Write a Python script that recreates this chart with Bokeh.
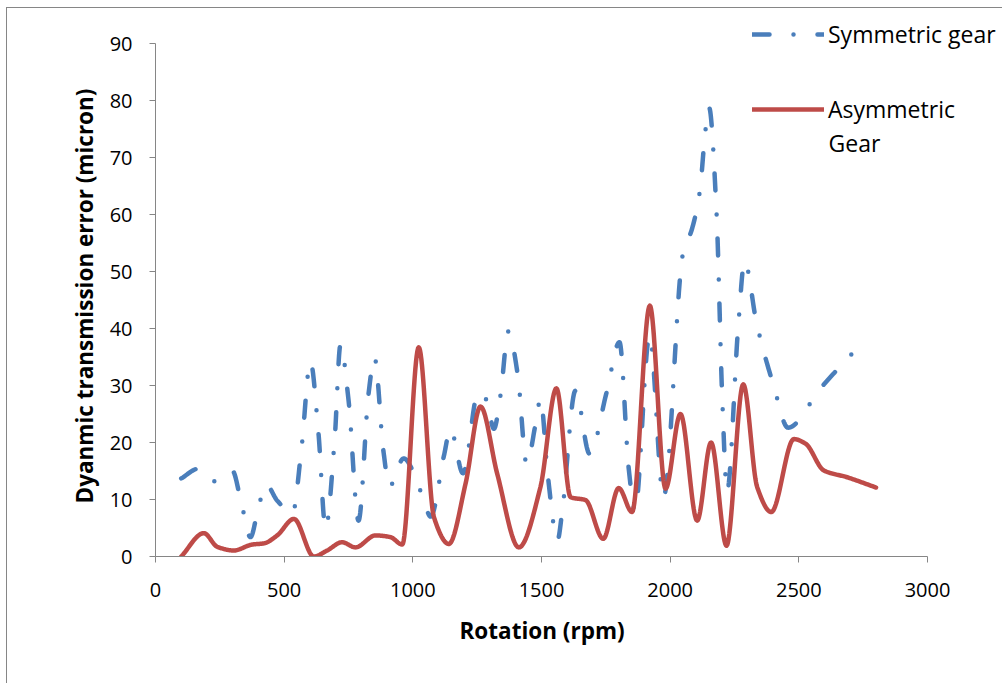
import numpy as np
from bokeh.plotting import figure
from bokeh.models import Range1d, FixedTicker, Legend, LegendItem, Label, Title
from bokeh.embed import file_html
from bokeh.resources import INLINE

# ---- data ----
sym_rpm = [100, 167, 225, 298, 334, 369, 400, 430, 473, 532, 567, 602, 633, 661,
           696, 719, 750, 789, 828, 851, 886, 909, 964, 1037, 1069, 1121, 1146,
           1195, 1254, 1286, 1315, 1341, 1371, 1408, 1442, 1478, 1496, 1525, 1562,
           1580, 1632, 1687, 1753, 1803, 1839, 1863, 1920, 1974, 2050, 2085, 2115,
           2137, 2151, 2180, 2203, 2221, 2265, 2289, 2336, 2402, 2458, 2584, 2750]
sym_err = [13.7, 15.4, 13.2, 15.1, 9.3, 3.4, 8.6, 12.6, 9.8, 7.5, 18.8, 34.2, 21.8, 4.9,
           20.4, 37.2, 27.5, 6.3, 28.6, 34.9, 18.4, 12.3, 17.2, 10.7, 7.0, 17.7, 22.4,
           14.6, 28.8, 27.5, 22.4, 28.4, 39.5, 31.8, 16.3, 23.5, 27.7, 14.0, 2.8,
           7.7, 29.1, 18.0, 28.8, 37.6, 15.4, 8.0, 38.8, 10.4, 53.2, 57.5, 64.0,
           74.7, 78.8, 60.5, 27.0, 11.4, 40.7, 51.8, 40.9, 30.0, 22.6, 29.5, 37.7]

asym_rpm = [100, 188, 240, 304, 376, 421, 473, 538, 615, 667, 725, 777, 855, 913, 959,
            1023, 1082, 1140, 1205, 1263, 1328, 1412, 1496, 1558, 1613, 1671, 1740,
            1800, 1852, 1921, 1982, 2040, 2105, 2159, 2219, 2284, 2338, 2393, 2481,
            2526, 2597, 2688, 2800]
asym_err = [0.0, 4.1, 1.7, 1.05, 2.1, 2.3, 3.7, 6.6, 0.0, 1.05, 2.5, 1.6, 3.7, 3.4, 2.1,
            36.7, 6.9, 2.2, 12.8, 26.3, 14.5, 1.6, 12.2, 29.5, 10.4, 9.9, 3.1,
            12.0, 7.8, 44.0, 11.9, 25.0, 6.3, 20.0, 1.9, 30.2, 12.2, 7.8, 20.6,
            19.8, 15.1, 13.9, 12.1]

x_ticks = [0, 500, 1000, 1500, 2000, 2500, 3000]
y_ticks = [0, 10, 20, 30, 40, 50, 60, 70, 80, 90]

sym_label = "Symmetric gear"
asym_label_line1 = "Asymmetric"
asym_label_line2 = "Gear"
x_title = "Rotation (rpm)"
y_title = "Dyanmic transmission error (micron)"


def smooth_path(xs, ys, n=24):
    """Smoothed drawing path (shape-preserving cubic Hermite) through the points."""
    x = np.asarray(xs, float)
    y = np.asarray(ys, float)
    h = np.diff(x)
    d = np.diff(y) / h
    m = np.zeros_like(x)
    m[0], m[-1] = d[0], d[-1]
    for k in range(1, len(x) - 1):
        if d[k - 1] * d[k] > 0:
            w1 = 2 * h[k] + h[k - 1]
            w2 = h[k] + 2 * h[k - 1]
            m[k] = (w1 + w2) / (w1 / d[k - 1] + w2 / d[k])
    px, py = [], []
    for k in range(len(x) - 1):
        t = np.linspace(0, 1, n, endpoint=False)
        h00 = 2 * t**3 - 3 * t**2 + 1
        h10 = t**3 - 2 * t**2 + t
        h01 = -2 * t**3 + 3 * t**2
        h11 = t**3 - t**2
        px.extend(x[k] + t * h[k])
        py.extend(h00 * y[k] + h10 * h[k] * m[k] + h01 * y[k + 1] + h11 * h[k] * m[k + 1])
    px.append(x[-1])
    py.append(y[-1])
    return px, py


sx, sy = smooth_path(sym_rpm, sym_err)
ax, ay = smooth_path(asym_rpm, asym_err)

BLUE = "#4A7EBB"
RED = "#BE4B48"
GREY = "#868686"

# Frame spans the whole upper-right area so the legend is not clipped;
# axis lines are limited to the data extent with `bounds`.
FRAME_W, FRAME_H = 848, 548
X_AXIS_PX, Y_AXIS_PX = 772, 513
p = figure(width=996, height=676,
           x_range=Range1d(0, 3000 * FRAME_W / X_AXIS_PX),
           y_range=Range1d(0, 90 * FRAME_H / Y_AXIS_PX),
           output_backend="svg", toolbar_location=None,
           min_border_left=148, min_border_right=0, min_border_top=0, min_border_bottom=128)
p.margin = (7, 0, 0, 6)
p.styles = {"border-left": "1px solid #868686", "border-top": "1px solid #868686"}
p.outline_line_color = None
p.xgrid.visible = False
p.ygrid.visible = False
p.background_fill_color = "white"

r_sym = p.line(sx, sy, line_color=BLUE, line_width=4.5, line_dash="17 24 0 24",
               line_cap="round", line_join="round")
r_asym = p.line(ax, ay, line_color=RED, line_width=4.5, line_cap="round", line_join="round")

for axis, ticks in ((p.xaxis[0], x_ticks), (p.yaxis[0], y_ticks)):
    axis.ticker = FixedTicker(ticks=ticks)
    axis.bounds = (ticks[0], ticks[-1])
    axis.axis_line_color = GREY
    axis.major_tick_line_color = GREY
    axis.major_tick_in = 0
    axis.major_tick_out = 6
    axis.minor_tick_line_color = None
    axis.major_label_text_font = "Open Sans"
    axis.major_label_text_font_size = "20px"
    axis.major_label_text_color = "black"

p.xaxis.major_label_standoff = 20
p.yaxis.major_label_standoff = 17

# axis titles centred on the drawn axis extent (not on the enlarged frame)
p.add_layout(Title(text=x_title, align="left", offset=304, standoff=26,
                   text_font="Open Sans", text_font_size="22.5px", text_font_style="bold",
                   text_color="black"), "below")
p.add_layout(Title(text=y_title, align="left", offset=53, standoff=14,
                   text_font="Open Sans", text_font_size="22.5px", text_font_style="bold",
                   text_color="black"), "left")

legend = Legend(items=[LegendItem(label=sym_label, renderers=[r_sym]),
                       LegendItem(label=asym_label_line1, renderers=[r_asym])],
                location=(597, 431), orientation="vertical",
                label_text_font="Open Sans", label_text_font_size="23px",
                label_text_color="black", glyph_width=72, glyph_height=24,
                label_standoff=4, spacing=43, padding=0, margin=0,
                border_line_color=None, background_fill_alpha=0)
p.add_layout(legend, "center")
p.add_layout(Label(x=673, y=414, x_units="screen", y_units="screen", text=asym_label_line2,
                   text_font="Open Sans", text_font_size="23px", text_color="black",
                   text_baseline="middle", text_align="left"))

open("out.html", "w").write(file_html(p, INLINE))
